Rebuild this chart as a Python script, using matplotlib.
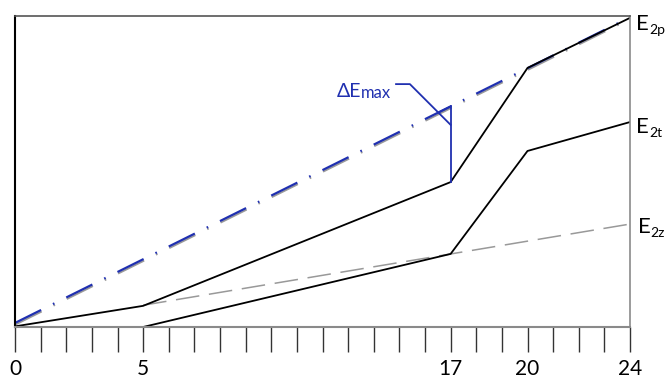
import numpy as np
import matplotlib
matplotlib.use('Agg')
import matplotlib.pyplot as plt
from matplotlib.transforms import offset_copy

plt.rcParams['font.family'] = ['Lato', 'DejaVu Sans']
plt.rcParams['lines.scale_dashes'] = False

# Hours of the day and energy curves (arbitrary units, 0..100)
hours_ideal = [0, 24]
e2p_ideal = [1.3, 99.6]            # straight E2p reference (blue dash-dot)

hours_e2p = [0, 5, 17, 20, 24]
e2p_actual = [0.2, 6.8, 46.6, 83.3, 99.4]

hours_e2t = [5, 17, 20, 24]
e2t = [0.0, 23.5, 56.6, 65.9]

hours_e2z = [5, 24]
e2z = [7.0, 33.1]

tick_hours = list(range(25))
labelled_hours = [0, 5, 17, 20, 24]
dE_hour = 17

# right-hand labels: (subscript, x, baseline y)
curve_labels = [('2p', 24.25, 95.5), ('2t', 24.25, 62.4), ('2z', 24.3, 30.2)]

blue = '#2030b0'

fig = plt.figure(figsize=(6.66, 3.81), dpi=100)
ax = fig.add_axes([15/666, 1 - 327/381, 615/666, 311/381])
ax.set_xlim(0, 24)
ax.set_ylim(0, 100)

# gray shadow under the blue reference line
shadow = offset_copy(ax.transData, fig=fig, x=0.6, y=-1.6, units='dots')
ax.plot(hours_ideal, e2p_ideal, color='#9a9a9a', lw=1.3,
        linestyle=(0, (21, 9.5, 1.2, 9.5)), transform=shadow)
ax.plot(hours_ideal, e2p_ideal, color=blue, lw=1.6,
        linestyle=(0, (21, 9.5, 1.2, 9.5)))

ax.plot(hours_e2z, e2z, color='#999999', lw=1.1,
        linestyle=(0, (17, 7)))

ax.plot(hours_e2p, e2p_actual, color='black', lw=1.3)
ax.plot(hours_e2t, e2t, color='black', lw=1.3)

# delta E max marker
top = np.interp(dE_hour, hours_ideal, e2p_ideal)
bot = np.interp(dE_hour, hours_e2p, e2p_actual)
ax.plot([dE_hour, dE_hour], [bot, top], color=blue, lw=1.3)
seg_x = [dE_hour - 0.4, dE_hour]
ax.plot(seg_x, np.interp(seg_x, hours_ideal, e2p_ideal), color=blue, lw=1.3)
ax.plot([14.87, 15.41, dE_hour], [78.1, 78.1, 65.0], color=blue, lw=1.3)
ax.text(12.55, 74.0, 'ΔE', color=blue, fontsize=14, va='baseline', ha='left')
ax.text(12.55, 74.0, 'max', color=blue, fontsize=12, va='baseline', ha='left',
        transform=offset_copy(ax.transData, fig=fig, x=24, y=-1, units='dots'))

# curve labels on the right
for sub, x, y in curve_labels:
    ax.text(x, y, 'E', fontsize=16, va='baseline', ha='left')
    ax.text(x, y, sub, fontsize=10, va='baseline', ha='left',
            transform=offset_copy(ax.transData, fig=fig, x=13, y=-4, units='dots'))

ax.set_xticks(tick_hours)
ax.set_xticklabels([str(h) if h in labelled_hours else '' for h in tick_hours],
                   fontsize=15)
ax.set_yticks([])
ax.tick_params(axis='x', direction='out', length=18, width=1.0,
               color='#333333', pad=5)

ax.spines['left'].set_color('black')
ax.spines['left'].set_linewidth(1.5)
ax.spines['bottom'].set_color('#8a8a8a')
ax.spines['bottom'].set_linewidth(1.5)
ax.spines['right'].set_color('#8a8a8a')
ax.spines['right'].set_linewidth(1.2)
ax.spines['top'].set_color('#555555')
ax.spines['top'].set_linewidth(1.2)

fig.savefig('out.png', dpi=100)
